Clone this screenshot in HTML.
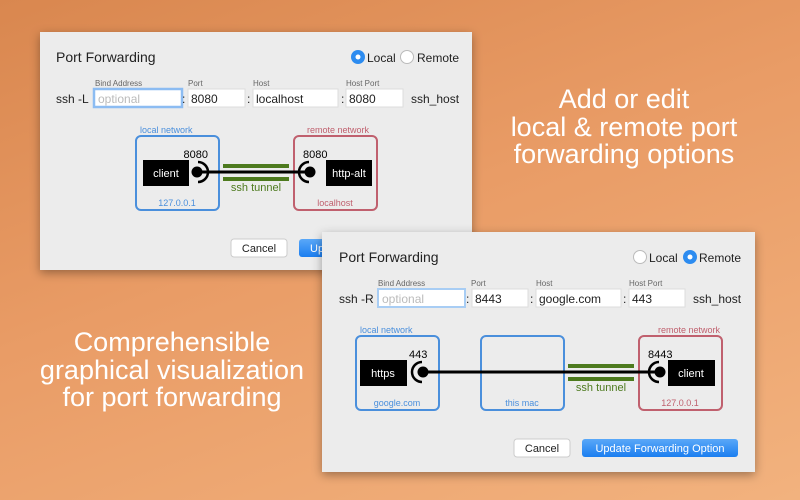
<!DOCTYPE html>
<html><head><meta charset="utf-8"><style>
html,body{margin:0;padding:0;width:800px;height:500px;overflow:hidden}
body{background:linear-gradient(160deg,#d9874f 0%,#e99c66 45%,#f2b27e 100%);font-family:"Liberation Sans",sans-serif}
svg text{font-family:"Liberation Sans",sans-serif}
</style></head><body>
<svg width="800" height="500" viewBox="0 0 800 500" xmlns="http://www.w3.org/2000/svg">
<defs>
<filter id="sh" x="-10%" y="-10%" width="120%" height="130%"><feDropShadow dx="0" dy="3" stdDeviation="5" flood-color="#000" flood-opacity="0.35"/></filter>
<linearGradient id="bl" x1="0" y1="0" x2="0" y2="1"><stop offset="0" stop-color="#5aa8f8"/><stop offset="1" stop-color="#1b7ef0"/></linearGradient>
</defs>
<g fill="#fff" font-size="27" text-anchor="middle">
<text x="624" y="108">Add or edit</text>
<text x="624" y="136">local &amp; remote port</text>
<text x="624" y="163">forwarding options</text>
<text x="172" y="351">Comprehensible</text>
<text x="172" y="379">graphical visualization</text>
<text x="172" y="406">for port forwarding</text>
</g>

<!-- Dialog 1 -->
<g>
<rect x="40" y="32" width="432" height="238" fill="#ececec" filter="url(#sh)"/>
<text x="56" y="62" font-size="14" fill="#222">Port Forwarding</text>
<circle cx="358" cy="57" r="7" fill="#2d8cf0"/><circle cx="358" cy="57" r="2.5" fill="#fff"/>
<text x="367" y="62" font-size="12" fill="#222">Local</text>
<circle cx="407" cy="57" r="6.5" fill="#fff" stroke="#bbb"/>
<text x="417" y="62" font-size="12" fill="#222">Remote</text>
<g font-size="8" fill="#666"><text x="95" y="86">Bind Address</text><text x="188" y="86">Port</text><text x="253" y="86">Host</text><text x="346" y="86">Host Port</text></g>
<text x="56" y="103" font-size="12" fill="#222">ssh -L</text>
<rect x="94" y="89" width="88" height="18" fill="#fff" stroke="#8cbcf2" stroke-width="2.5"/>
<text x="98" y="103" font-size="12" fill="#bbb">optional</text>
<g font-size="12" fill="#222">
<text x="182" y="103">:</text><rect x="188" y="89" width="57" height="18" fill="#fff" stroke="#ddd"/><text x="191" y="103">8080</text>
<text x="247" y="103">:</text><rect x="253" y="89" width="85" height="18" fill="#fff" stroke="#ddd"/><text x="256" y="103">localhost</text>
<text x="341" y="103">:</text><rect x="346" y="89" width="57" height="18" fill="#fff" stroke="#ddd"/><text x="349" y="103">8080</text>
<text x="411" y="103">ssh_host</text>
</g>
<rect x="136" y="136" width="83" height="74" rx="5" fill="none" stroke="#4a8fdc" stroke-width="2"/>
<text x="140" y="133" font-size="9" fill="#4a8fdc">local network</text>
<text x="177" y="206" font-size="9" fill="#4a8fdc" text-anchor="middle">127.0.0.1</text>
<rect x="294" y="136" width="83" height="74" rx="5" fill="none" stroke="#c0606e" stroke-width="2"/>
<text x="307" y="133" font-size="9" fill="#c0606e">remote network</text>
<text x="335" y="206" font-size="9" fill="#c0606e" text-anchor="middle">localhost</text>
<rect x="223" y="164" width="66" height="4" fill="#4d7a1e"/><rect x="223" y="177" width="66" height="4" fill="#4d7a1e"/>
<text x="256" y="191" font-size="11" fill="#4d7a1e" text-anchor="middle">ssh tunnel</text>
<line x1="197" y1="172" x2="310" y2="172" stroke="#000" stroke-width="3"/>
<rect x="143" y="160" width="46" height="26" fill="#000"/><text x="166" y="177" font-size="11" fill="#fff" text-anchor="middle">client</text>
<circle cx="197" cy="172" r="5.5" fill="#000"/>
<path d="M198 162 A10 10 0 0 1 198 182" fill="none" stroke="#000" stroke-width="2.5"/>
<text x="208" y="158" font-size="11" fill="#000" text-anchor="end">8080</text>
<rect x="326" y="160" width="46" height="26" fill="#000"/><text x="349" y="177" font-size="11" fill="#fff" text-anchor="middle">http-alt</text>
<circle cx="310" cy="172" r="5.5" fill="#000"/>
<path d="M309 162 A10 10 0 0 0 309 182" fill="none" stroke="#000" stroke-width="2.5"/>
<text x="303" y="158" font-size="11" fill="#000">8080</text>
<rect x="231" y="239" width="56" height="18" rx="3" fill="#fff" stroke="#ccc"/><text x="259" y="252" font-size="11" fill="#222" text-anchor="middle">Cancel</text>
<rect x="299" y="239" width="60" height="18" rx="3" fill="url(#bl)"/><text x="310" y="252" font-size="11" fill="#fff">Up</text>
</g>

<!-- Dialog 2 -->
<g>
<rect x="322" y="232" width="433" height="240" fill="#ececec" filter="url(#sh)"/>
<text x="339" y="262" font-size="14" fill="#222">Port Forwarding</text>
<circle cx="640" cy="257" r="6.5" fill="#fff" stroke="#bbb"/>
<text x="649" y="262" font-size="12" fill="#222">Local</text>
<circle cx="690" cy="257" r="7" fill="#2d8cf0"/><circle cx="690" cy="257" r="2.5" fill="#fff"/>
<text x="699" y="262" font-size="12" fill="#222">Remote</text>
<g font-size="8" fill="#666"><text x="378" y="286">Bind Address</text><text x="471" y="286">Port</text><text x="536" y="286">Host</text><text x="629" y="286">Host Port</text></g>
<text x="339" y="303" font-size="12" fill="#222">ssh -R</text>
<rect x="378" y="289" width="87" height="18" fill="#fff" stroke="#a8cdf4" stroke-width="2"/>
<text x="382" y="303" font-size="12" fill="#bbb">optional</text>
<g font-size="12" fill="#222">
<text x="466" y="303">:</text><rect x="472" y="289" width="56" height="18" fill="#fff" stroke="#ddd"/><text x="475" y="303">8443</text>
<text x="530" y="303">:</text><rect x="536" y="289" width="85" height="18" fill="#fff" stroke="#ddd"/><text x="539" y="303">google.com</text>
<text x="623" y="303">:</text><rect x="629" y="289" width="56" height="18" fill="#fff" stroke="#ddd"/><text x="632" y="303">443</text>
<text x="693" y="303">ssh_host</text>
</g>
<rect x="356" y="336" width="83" height="74" rx="5" fill="none" stroke="#4a8fdc" stroke-width="2"/>
<text x="360" y="333" font-size="9" fill="#4a8fdc">local network</text>
<text x="397" y="406" font-size="9" fill="#4a8fdc" text-anchor="middle">google.com</text>
<rect x="481" y="336" width="83" height="74" rx="5" fill="none" stroke="#4a8fdc" stroke-width="2"/>
<text x="522" y="406" font-size="9" fill="#4a8fdc" text-anchor="middle">this mac</text>
<rect x="639" y="336" width="83" height="74" rx="5" fill="none" stroke="#c0606e" stroke-width="2"/>
<text x="720" y="333" font-size="9" fill="#c0606e" text-anchor="end">remote network</text>
<text x="680" y="406" font-size="9" fill="#c0606e" text-anchor="middle">127.0.0.1</text>
<rect x="568" y="364" width="66" height="4" fill="#4d7a1e"/><rect x="568" y="377" width="66" height="4" fill="#4d7a1e"/>
<text x="601" y="391" font-size="11" fill="#4d7a1e" text-anchor="middle">ssh tunnel</text>
<line x1="423" y1="372" x2="660" y2="372" stroke="#000" stroke-width="3"/>
<rect x="360" y="360" width="47" height="26" fill="#000"/><text x="383" y="377" font-size="11" fill="#fff" text-anchor="middle">https</text>
<circle cx="423" cy="372" r="5.5" fill="#000"/>
<path d="M422 362 A10 10 0 0 0 422 382" fill="none" stroke="#000" stroke-width="2.5"/>
<text x="409" y="358" font-size="11" fill="#000">443</text>
<rect x="668" y="360" width="47" height="26" fill="#000"/><text x="691" y="377" font-size="11" fill="#fff" text-anchor="middle">client</text>
<circle cx="660" cy="372" r="5.5" fill="#000"/>
<path d="M659 362 A10 10 0 0 0 659 382" fill="none" stroke="#000" stroke-width="2.5"/>
<text x="648" y="358" font-size="11" fill="#000">8443</text>
<rect x="514" y="439" width="56" height="18" rx="3" fill="#fff" stroke="#ccc"/><text x="542" y="452" font-size="11" fill="#222" text-anchor="middle">Cancel</text>
<rect x="582" y="439" width="156" height="18" rx="3" fill="url(#bl)"/><text x="660" y="452" font-size="11" fill="#fff" text-anchor="middle">Update Forwarding Option</text>
</g>
</svg>
</body></html>
